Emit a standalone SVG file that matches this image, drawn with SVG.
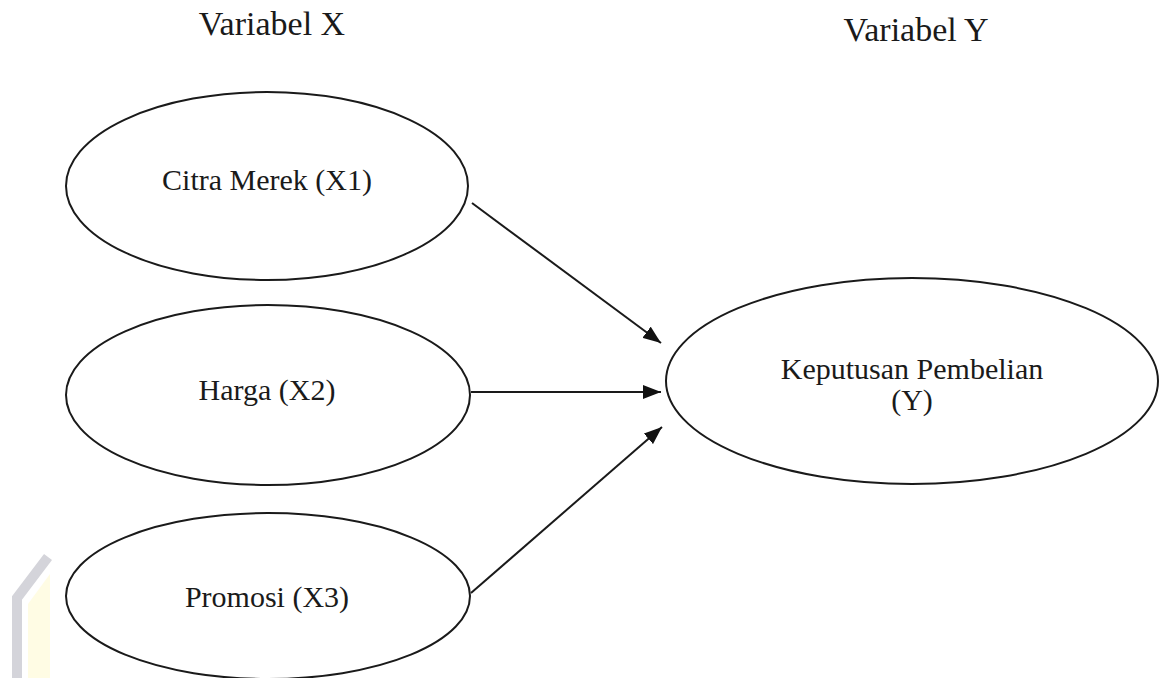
<svg xmlns="http://www.w3.org/2000/svg" width="1159" height="678" viewBox="0 0 1159 678">
<style>
.node ellipse{fill:#fff;stroke:#1a1a1a;stroke-width:2}
.lbl{font-size:30px;fill:#1a1a1a;text-anchor:middle}
.title{font-size:34px;fill:#1a1a1a;text-anchor:middle}
.conn line{stroke:#1a1a1a;stroke-width:2;marker-end:url(#ah)}
</style>
<defs>
<marker id="ah" markerUnits="userSpaceOnUse" markerWidth="18" markerHeight="14" viewBox="0 0 18 14" refX="18" refY="7" orient="auto">
<path d="M0,0 L18,7 L0,14 z" fill="#111"/>
</marker>
</defs>
<rect width="1159" height="678" fill="#fff"/>
<g id="watermark">
<polygon points="28,604 50,574 50,678 28,678" fill="#fffce4"/>
<polyline points="17,678 17,598 48,557" fill="none" stroke="#d4d4da" stroke-width="10"/>
</g>
<g font-family="Liberation Serif, DejaVu Serif, serif">
<text class="title" x="272" y="35">Variabel X</text>
<text class="title" x="916" y="41">Variabel Y</text>
<g id="x1" class="node">
<ellipse cx="267" cy="186" rx="201" ry="94"/>
<text class="lbl" x="267" y="190">Citra Merek (X1)</text>
</g>
<g id="x2" class="node">
<ellipse cx="268" cy="395" rx="202" ry="90"/>
<text class="lbl" x="267" y="400">Harga (X2)</text>
</g>
<g id="x3" class="node">
<ellipse cx="268" cy="596" rx="202" ry="83"/>
<text class="lbl" x="267" y="607">Promosi (X3)</text>
</g>
<g id="y" class="node">
<ellipse cx="912" cy="381" rx="246" ry="103"/>
<text class="lbl" x="912" y="379">Keputusan Pembelian</text>
<text class="lbl" x="912" y="410">(Y)</text>
</g>
</g>
<g id="connectors" class="conn">
<line x1="472" y1="203" x2="661" y2="343"/>
<line x1="471" y1="392" x2="661" y2="392"/>
<line x1="471" y1="593" x2="662" y2="427"/>
</g>
</svg>
